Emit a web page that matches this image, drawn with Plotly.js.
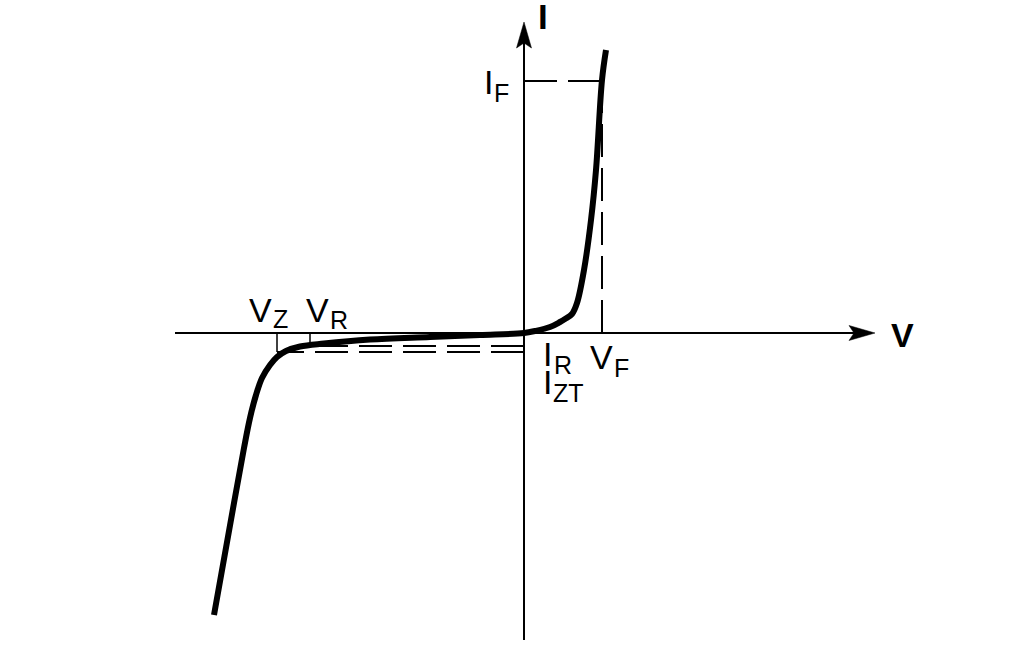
<!DOCTYPE html>
<html>
<head>
<meta charset="utf-8">
<script src="https://cdn.plot.ly/plotly-3.0.1.min.js"></script>
<style>html,body{margin:0;padding:0;background:#fff;}#chart{width:1035px;height:649px;}</style>
</head>
<body>
<div id="chart"></div>
<script>
// Diode / Zener I-V characteristic (arbitrary units)
const curveV = [-310, -290, -280, -274, -268, -262, -254, -247, -238, -224, -200, -154, -94, -44, 0, 11, 26, 36, 41, 48, 53, 60, 67, 72, 78, 82];
const curveI = [-282, -170, -115, -85, -62, -45, -32, -24, -18, -13.5, -10.5, -6.5, -4, -2, 0, 2, 6, 11, 14, 19, 30, 63, 113, 163, 253, 283];

// characteristic points
const VF = 78, IF = 252;
const VZ = -247, VR = -214;
const IR = -13, IZT = -19;

// axis extents
const axisV = [-349, 351];
const axisI = [-307, 311];

// labels
const mainLabels = ["I", "I", "V", "V", "I", "V", "I"];
const subLabels  = ["",  "F", "Z", "R", "R", "F", "ZT"];

const black = "#000";
const FONT = "Liberation Sans, Arial, sans-serif";
const traces = [];

// axes
traces.push({x: [axisV[0], axisV[1] - 6], y: [0, 0], mode: "lines", line: {color: black, width: 2}, hoverinfo: "skip"});
traces.push({x: [0, 0], y: [axisI[0], axisI[1] - 6], mode: "lines", line: {color: black, width: 2}, hoverinfo: "skip"});

// barbed arrowheads
function arrow(tipX, tipY, dir) {
  const L = 26, W = 7.5, N = 21;
  let xs, ys;
  if (dir === "right") {
    xs = [tipX, tipX - L, tipX - N, tipX - L, tipX];
    ys = [tipY, tipY + W, tipY, tipY - W, tipY];
  } else {
    xs = [tipX, tipX + W, tipX, tipX - W, tipX];
    ys = [tipY, tipY - L, tipY - N, tipY - L, tipY];
  }
  return {x: xs, y: ys, mode: "lines", fill: "toself", fillcolor: black, line: {color: black, width: 0.5}, hoverinfo: "skip"};
}
traces.push(arrow(axisV[1], 0, "right"));
traces.push(arrow(0, axisI[1], "up"));

// dashed guide lines
const dash = "33px,11px";
traces.push({x: [0, VF], y: [IF, IF], mode: "lines", line: {color: black, width: 2, dash: dash}, hoverinfo: "skip"});
traces.push({x: [VF, VF], y: [0, IF], mode: "lines", line: {color: black, width: 2, dash: dash}, hoverinfo: "skip"});
traces.push({x: [0, VR], y: [IR, IR], mode: "lines", line: {color: black, width: 2, dash: dash}, hoverinfo: "skip"});
traces.push({x: [0, VZ], y: [IZT, IZT], mode: "lines", line: {color: black, width: 2, dash: dash}, hoverinfo: "skip"});

// tick lines for VZ, VR
traces.push({x: [VZ, VZ], y: [0, IZT], mode: "lines", line: {color: black, width: 1.5}, hoverinfo: "skip"});
traces.push({x: [VR, VR], y: [0, IR], mode: "lines", line: {color: black, width: 1.5}, hoverinfo: "skip"});

// main curve
traces.push({x: curveV, y: curveI, mode: "lines", line: {color: black, width: 6, shape: "spline", smoothing: 1}, hoverinfo: "skip"});

// annotations
const MAIN = 34, SUB = 25;
function txt(t, x, y, size, bold) {
  return {text: bold ? "<b>" + t + "</b>" : t, x: x, y: y, xref: "x", yref: "y", showarrow: false,
          xanchor: "center", yanchor: "middle", font: {family: FONT, size: size, color: black}};
}
const ann = [];
ann.push(txt(mainLabels[0], 19, 317, 35, true));
ann.push(txt("V", 378, -2, 34, true));
// I_F
ann.push(txt(mainLabels[1], -36, 251.5, MAIN));
ann.push(txt(subLabels[1], -22.5, 240.5, SUB));
// V_Z
ann.push(txt(mainLabels[2], -263.5, 23.5, MAIN));
ann.push(txt(subLabels[2], -243.5, 14, SUB));
// V_R
ann.push(txt(mainLabels[3], -207, 23.5, MAIN));
ann.push(txt(subLabels[3], -185, 13.5, SUB));
// I_R
ann.push(txt(mainLabels[4], 23.5, -20.5, MAIN));
ann.push(txt(subLabels[4], 38.5, -32, SUB));
// V_F
ann.push(txt(mainLabels[5], 77, -23.5, MAIN));
ann.push(txt(subLabels[5], 97.5, -34.5, SUB));
// I_ZT
ann.push(txt(mainLabels[6], 23.5, -48.5, MAIN));
ann.push(txt(subLabels[6], 44.5, -59.5, SUB));

const layout = {
  width: 1035, height: 649,
  margin: {l: 0, r: 0, t: 0, b: 0},
  paper_bgcolor: "#fff", plot_bgcolor: "#fff",
  showlegend: false,
  xaxis: {range: [-524, 511], visible: false, fixedrange: true},
  yaxis: {range: [-316, 333], visible: false, fixedrange: true},
  annotations: ann
};
Plotly.newPlot("chart", traces, layout, {displayModeBar: false, staticPlot: true});
</script>
</body>
</html>
